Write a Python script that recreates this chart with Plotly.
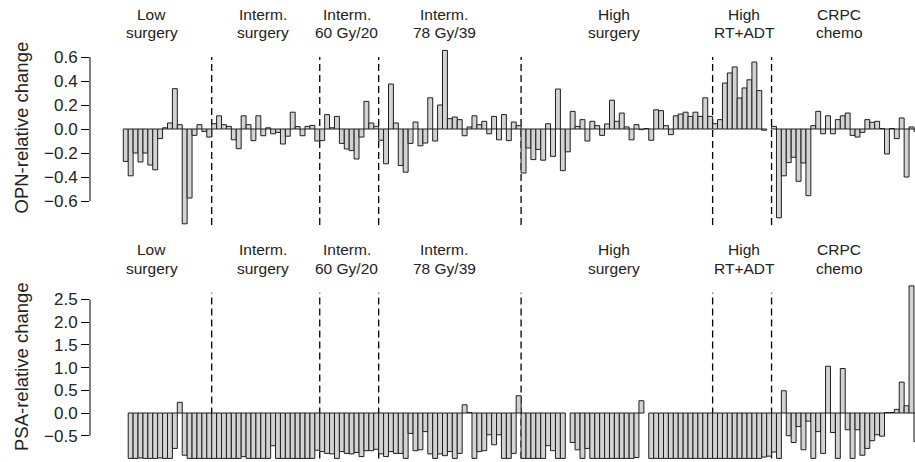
import plotly.graph_objects as go

# ---------------- data ----------------
group_line1 = ["Low", "Interm.", "Interm.", "Interm.", "High", "High", "CRPC"]
group_line2 = ["surgery", "surgery", "60 Gy/20", "78 Gy/39", "surgery", "RT+ADT", "chemo"]
group_sizes = [18, 22, 12, 29, 39, 12, 30]

opn_change = [
    -0.27, -0.39, -0.20, -0.275, -0.20, -0.30, -0.34, -0.08, 0.01, 0.05,
    0.336, 0.036, -0.79, -0.575, -0.053, 0.036, -0.02, -0.067,
    0.044, 0.11, 0.036, 0.022, -0.09, -0.164, 0.11, 0.036, -0.097, 0.11,
    -0.056, 0.01, -0.04, -0.028, -0.125, -0.06, 0.14, 0.02, -0.056, 0.022,
    0.03, -0.10,
    -0.097, 0.12, 0.01, 0.105, -0.12, -0.167, -0.18, -0.25, -0.067, 0.23,
    0.05, 0.022,
    -0.094, -0.29, 0.375, 0.05, -0.305, -0.36, -0.12, 0.058, -0.14, -0.117,
    0.26, -0.10, 0.20, 0.655, 0.086, 0.10, 0.078, -0.056, 0.017, 0.11,
    0.036, 0.064, -0.04, 0.105, -0.09, 0.12, -0.097, 0.058, 0.028,
    -0.367, -0.158, -0.255, -0.17, -0.26, 0.044, -0.228, 0.333, -0.347, -0.19,
    0.147, 0.022, 0.078, -0.10, 0.064, 0.028, -0.053, 0.042, 0.24, 0.064,
    0.133, 0.017, -0.09, 0.036, -0.005, 0.004, -0.094, 0.16, 0.153, 0.028,
    -0.047, 0.11, 0.125, 0.14, 0.105, 0.14, 0.105, 0.26, 0.105,
    0.044, 0.078, 0.383, 0.467, 0.517, 0.258, 0.342, 0.41, 0.558, 0.32,
    -0.01, None,
    0.022, -0.74, -0.39, -0.28, -0.236, -0.436, -0.283, -0.556, 0.028, 0.147,
    -0.04, 0.11, -0.04, 0.078, 0.11, 0.133, -0.053, -0.067, -0.028, 0.078,
    0.056, 0.064, 0.004, -0.208, 0.004, -0.08, 0.092, -0.40, 0.017, -0.02,
]

psa_change = [
    None, -1.0, -1.0, -0.99, -1.0, -1.0, -1.0, -0.99, -1.0, -1.0,
    -0.78, 0.235, -0.93, -1.0, -1.0, -1.0, -1.0, -1.0,
    -1.0, -1.0, -1.0, -1.0, -1.0, -1.0, -0.96, -1.0, -1.0, -1.0,
    -1.0, -1.0, -0.72, -1.0, -1.0, -1.0, -1.0, -1.0, -1.0, -1.0,
    -1.0, -0.82,
    -0.85, -0.89, -0.90, -1.0, -0.85, -0.89, -0.90, -0.87, -0.96, -0.83,
    -0.83, -0.80,
    -0.90, -0.96, -0.85, -0.89, -0.89, -1.0, -0.45, -0.83, -0.81, -0.41,
    -0.90, -1.0, -0.90, -0.94, -0.85, -1.0, -0.89, 0.18, 0.01, -1.0,
    -0.85, -0.83, -0.48, -0.70, -0.48, -1.0, -1.0, -0.89, 0.38,
    -1.0, -1.0, -1.0, -1.0, -1.0, -0.72, -0.83, -1.0, -1.0, None,
    -0.65, -0.81, -1.0, -0.78, -1.0, -1.0, -1.0, -1.0, -1.0, -1.0,
    -1.0, -1.0, -1.0, -0.98, 0.27, None, -1.0, -1.0, -1.0, -1.0,
    -1.0, -1.0, -1.0, -1.0, -1.0, -1.0, -1.0, -1.0, -1.0,
    -1.0, -1.0, -1.0, -1.0, -1.0, -1.0, -1.0, -1.0, -1.0, -1.0,
    -0.97, -0.95,
    -0.86, -1.0, 0.49, -0.50, -0.65, -0.30, -0.81, -0.18, -1.0, -0.41,
    -0.89, 1.03, -0.43, -1.0, 0.98, -0.37, -1.0, -0.37, -0.93, -0.78,
    -0.61, -0.48, -0.51, 0.01, 0.01, 0.08, 0.68, 0.16, 2.80, -0.63,
]

opn_ticks = [-0.6, -0.4, -0.2, 0.0, 0.2, 0.4, 0.6]
psa_ticks = [-0.5, 0.0, 0.5, 1.0, 1.5, 2.0, 2.5]

# ---------------- layout constants ----------------
W, H = 915, 462
FONT = "Liberation Sans, Arial, Helvetica, sans-serif"
FILL = "#d3d3d3"
EDGE = "#1e1e1e"
x_left_px = 90
x_range = [-7.28, 160.71]
label_x = [5.34, 27.95, 45.05, 64.9, 99.5, 125.9, 145.3]


def pxx(p):
    return p / W


def pxy(p):
    return (H - p) / H


top_dom = [pxy(232), pxy(40)]
bot_dom = [0.0, pxy(280)]
top_range = [(129 - 232) / 120.0, (129 - 40) / 120.0]
bot_range = [(413 - 462) / 45.4, (413 - 280) / 45.4]

idx = list(range(len(opn_change)))

fig = go.Figure()
bar_style = dict(marker=dict(color=FILL, line=dict(color=EDGE, width=1)),
                 width=1.0, showlegend=False, hoverinfo="skip")
fig.add_trace(go.Bar(x=idx, y=opn_change, xaxis="x", yaxis="y", **bar_style))
fig.add_trace(go.Bar(x=list(range(len(psa_change))), y=psa_change,
                     xaxis="x2", yaxis="y2", **bar_style))

# group boundaries
bounds = []
acc = 0
for s in group_sizes[:-1]:
    acc += s
    bounds.append(acc - 0.5)

shapes = []
for b in bounds:
    shapes.append(dict(type="line", xref="x", yref="y", x0=b, x1=b, y0=-0.8, y1=0.6,
                       line=dict(color="black", width=1.3, dash="7px,4px"), layer="below"))
    shapes.append(dict(type="line", xref="x2", yref="y2", x0=b, x1=b, y0=-1.0, y1=2.65,
                       line=dict(color="black", width=1.3, dash="7px,4px"), layer="below"))

xp = pxx(x_left_px)
shapes.append(dict(type="line", xref="paper", yref="y", x0=xp, x1=xp,
                   y0=min(opn_ticks), y1=max(opn_ticks), line=dict(color="black", width=1)))
shapes.append(dict(type="line", xref="paper", yref="y2", x0=xp, x1=xp,
                   y0=min(psa_ticks), y1=max(psa_ticks), line=dict(color="black", width=1)))

annotations = []
for i, (l1, l2) in enumerate(zip(group_line1, group_line2)):
    for off, xref in ((0, "x"), (235, "x2")):
        annotations.append(dict(text=l1, x=label_x[i], xref=xref, yref="paper",
                                y=pxy(14.5 + off), yanchor="middle", xanchor="center",
                                showarrow=False, font=dict(family=FONT, size=15.5, color="#222")))
        annotations.append(dict(text=l2, x=label_x[i], xref=xref, yref="paper",
                                y=pxy(33 + off), yanchor="middle", xanchor="center",
                                showarrow=False, font=dict(family=FONT, size=15.5, color="#222")))

annotations.append(dict(text="OPN-relative change", x=pxx(21), y=pxy(127.5),
                        xref="paper", yref="paper", textangle=-90, showarrow=False,
                        xanchor="center", yanchor="middle",
                        font=dict(family=FONT, size=18.5, color="#222")))
annotations.append(dict(text="PSA-relative change", x=pxx(21), y=pxy(367),
                        xref="paper", yref="paper", textangle=-90, showarrow=False,
                        xanchor="center", yanchor="middle",
                        font=dict(family=FONT, size=18.5, color="#222")))


def fmt(v):
    s = f"{v:.1f}"
    return s.replace("-", "\u2212")


yaxis_common = dict(showgrid=False, zeroline=False, showline=False, ticks="outside",
                    ticklen=8, tickwidth=1, tickcolor="black",
                    tickfont=dict(family=FONT, size=17, color="#222"))

fig.update_layout(
    width=W, height=H,
    margin=dict(l=0, r=0, t=0, b=0),
    paper_bgcolor="white", plot_bgcolor="white",
    barmode="overlay",
    hovermode=False,
    xaxis=dict(domain=[xp, 1], range=x_range, visible=False, anchor="y"),
    xaxis2=dict(domain=[xp, 1], range=x_range, visible=False, anchor="y2"),
    yaxis=dict(domain=top_dom, range=top_range, anchor="x",
               tickvals=opn_ticks, ticktext=[fmt(v) for v in opn_ticks], **yaxis_common),
    yaxis2=dict(domain=bot_dom, range=bot_range, anchor="x2",
                tickvals=psa_ticks, ticktext=[fmt(v) for v in psa_ticks], **yaxis_common),
    shapes=shapes,
    annotations=annotations,
)

fig.write_html(
    "out.html",
    config={"displayModeBar": False, "staticPlot": True},
    post_script="document.body.style.margin='0';document.body.style.overflow='hidden';",
)
